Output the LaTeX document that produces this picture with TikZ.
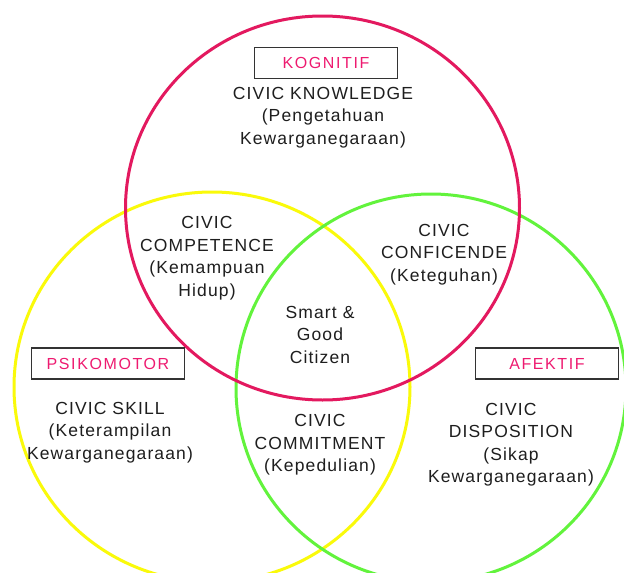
\documentclass[tikz,border=0pt]{standalone}
\usepackage{fontspec}
\setmainfont{Liberation Sans}[LetterSpace=6.5]
\newfontfamily\labelfont{Liberation Sans}[LetterSpace=10]
\definecolor{ringred}{HTML}{E3195F}
\definecolor{ringyellow}{HTML}{FAFA0A}
\definecolor{ringgreen}{HTML}{62F33C}
\definecolor{labelpink}{HTML}{EE1A70}
\definecolor{inkgray}{HTML}{1E1E1E}
\definecolor{framegray}{HTML}{333333}
\tikzset{
  ring/.style={line width=3pt},
  txt/.style={align=center, text=inkgray, inner sep=0pt, font=\fontsize{17.5}{22.5}\selectfont},
  tag/.style={draw=framegray, line width=1.6pt, text=labelpink, inner sep=0pt,
    font=\labelfont\fontsize{16}{20}\selectfont, minimum height=31pt}
}
\begin{document}
\begin{tikzpicture}[x=1pt,y=-1pt]
\useasboundingbox (0,0) rectangle (624,573);
\fill[white] (0,0) rectangle (624,573);
\clip (0,0) rectangle (624,573);
\draw[ring, ringyellow] (212,387) ellipse[x radius=198, y radius=195];
\draw[ring, ringgreen] (431,388) ellipse[x radius=195, y radius=194];
\draw[ring, ringred] (322.5,208) ellipse[x radius=197, y radius=192];
\node[tag, minimum width=143pt] (kog) at (326,63) {KOGNITIF};
\node[tag, minimum width=153pt] (psi) at (108,363.5) {PSIKOMOTOR};
\node[tag, minimum width=143pt] (afe) at (547,363.5) {AFEKTIF};
\node[txt] (know) at (323,117.5) {CIVIC KNOWLEDGE\\(Pengetahuan\\Kewarganegaraan)};
\node[txt] (comp) at (207,258) {CIVIC\\COMPETENCE\\(Kemampuan\\Hidup)};
\node[txt] (conf) at (444,254.5) {CIVIC\\CONFICENDE\\(Keteguhan)};
\node[txt] (smart) at (320,334.5) {Smart \&\\Good\\Citizen};
\node[txt] (skill) at (110,432.5) {CIVIC SKILL\\(Keterampilan\\Kewarganegaraan)};
\node[txt] (commit) at (320,445) {CIVIC\\COMMITMENT\\(Kepedulian)};
\node[txt] (disp) at (511,444.5) {CIVIC\\DISPOSITION\\(Sikap\\Kewarganegaraan)};
\end{tikzpicture}
\end{document}
